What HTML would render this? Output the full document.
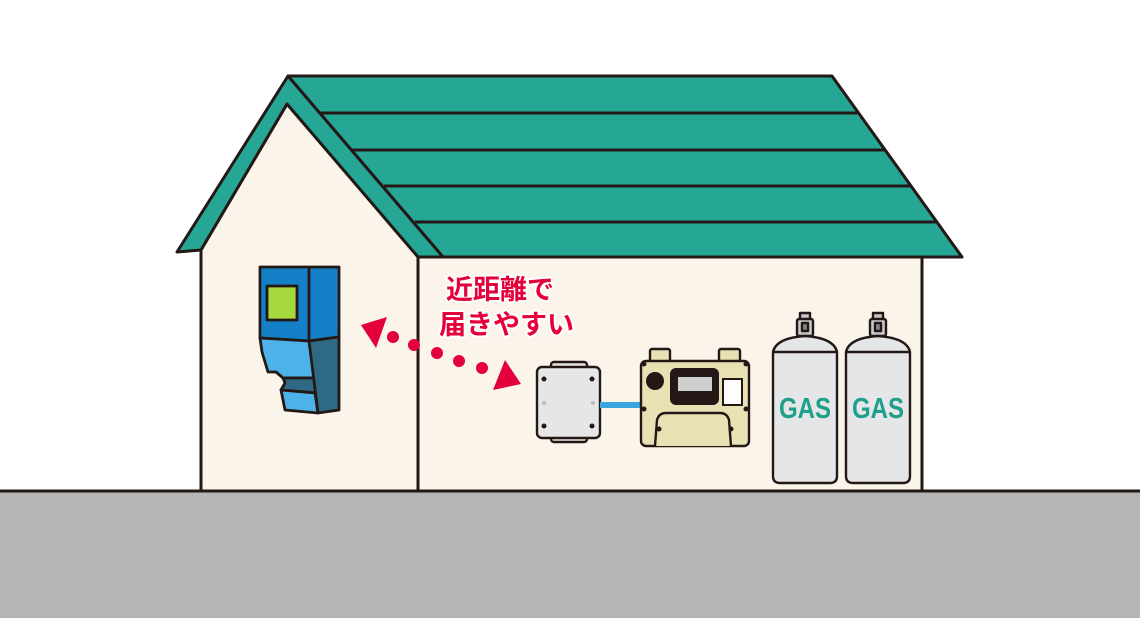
<!DOCTYPE html>
<html><head><meta charset="utf-8"><style>
html,body{margin:0;padding:0;background:#fff;}
svg{display:block;}
</style></head><body>
<svg width="1140" height="618" viewBox="0 0 1140 618" xmlns="http://www.w3.org/2000/svg">
<rect width="1140" height="618" fill="#fff"/>
<rect x="0" y="491" width="1140" height="127" fill="#b5b5b5"/>
<line x1="0" y1="491" x2="1140" y2="491" stroke="#231815" stroke-width="3"/>
<rect x="418" y="256" width="504" height="235" fill="#fbf4ea" stroke="#231815" stroke-width="3"/>
<polygon points="201,250 287,104 418,256 418,491 201,491" fill="#fbf4ea" stroke="#231815" stroke-width="3"/>
<polygon points="288,76 832,76 962,257 443,257" fill="#26a795" stroke="#231815" stroke-width="3" stroke-linejoin="round"/>
<g stroke="#231815" stroke-width="3">
<line x1="320" y1="113" x2="858" y2="113"/>
<line x1="352" y1="150" x2="885" y2="150"/>
<line x1="384" y1="186" x2="910" y2="186"/>
<line x1="415" y1="222" x2="936" y2="222"/>
</g>
<polygon points="288,76 443,257 418,257 287,104 201,250 177,252" fill="#26a795" stroke="#231815" stroke-width="3" stroke-linejoin="round"/>
<g stroke="#231815" stroke-width="2.8" stroke-linejoin="round">
<polygon points="260,267 339,267 339,337 309,341 260,338" fill="#1480c8"/>
<line x1="309" y1="267" x2="309" y2="341"/>
<rect x="267" y="286" width="30" height="34" fill="#a6d940"/>
<polygon points="260,338 309,341 315,378 283,378 276,372 268,372 262,352" fill="#4db2e8"/>
<polygon points="283,378 315,378 318,393 281,390 285,383" fill="#2f6a85"/>
<polygon points="281,390 315,393 318,413 285,410" fill="#4db2e8"/>
<polygon points="309,341 339,337 339,410 318,413" fill="#2f6a85"/>
</g>
<g fill="#e4003a">
<polygon points="361,325 387,317 376,348"/>
<circle cx="393" cy="337" r="6"/>
<circle cx="414" cy="345" r="6"/>
<circle cx="437" cy="353" r="6"/>
<circle cx="459" cy="361" r="6"/>
<circle cx="482" cy="368" r="6"/>
<polygon points="505,360 521,384 493,390"/>
</g>
<g font-family="'Liberation Sans','Noto Sans CJK JP',sans-serif" font-weight="bold" font-size="27" fill="#e4003a" stroke="#fff" stroke-width="4" paint-order="stroke" stroke-linejoin="round">
<text x="446" y="299">近距離で</text>
<text x="439" y="334">届きやすい</text>
</g>
<g stroke="#231815" stroke-width="2.4" stroke-linejoin="round">
<rect x="551" y="362" width="36" height="8" rx="3" fill="#e6e6e6"/>
<rect x="551" y="434" width="36" height="8" rx="3" fill="#e6e6e6"/>
<rect x="537" y="367" width="63" height="71" rx="5" fill="#e6e6e6"/>
</g>
<g fill="#231815"><circle cx="544" cy="379" r="2.5"/><circle cx="592" cy="379" r="2.5"/><circle cx="544" cy="426" r="2.5"/><circle cx="592" cy="426" r="2.5"/></g>
<g fill="#bbb"><circle cx="544" cy="403" r="2"/><circle cx="593" cy="403" r="2"/></g>
<rect x="600" y="402" width="41" height="6" fill="#3aa5dc"/>
<g stroke="#231815" stroke-width="2.4" stroke-linejoin="round">
<rect x="650" y="349" width="20" height="14" rx="2" fill="#e8e1b4"/>
<rect x="719" y="349" width="21" height="14" rx="2" fill="#e8e1b4"/>
<rect x="641" y="361" width="108" height="85" rx="5" fill="#e8e1b4"/>
<path d="M655,446 L657,420 Q659,413 666,413 L720,413 Q727,413 729,420 L731,446" fill="#e8e1b4"/>
</g>
<circle cx="655" cy="381" r="9" fill="#231815"/>
<rect x="670" y="368" width="49" height="37" rx="6" fill="#231815"/>
<rect x="678" y="377" width="34" height="14" fill="#cfcfcf"/>
<rect x="723" y="379" width="19" height="26" fill="#fff" stroke="#231815" stroke-width="2"/>
<g fill="#231815"><circle cx="644" cy="364" r="2.5"/><circle cx="746" cy="364" r="2.5"/><circle cx="644" cy="409" r="2.5"/><circle cx="746" cy="409" r="2.5"/><circle cx="659" cy="429" r="2.5"/><circle cx="731" cy="429" r="2.5"/></g>
<g stroke="#231815" stroke-width="2.4" stroke-linejoin="round">
<g>
<rect x="800" y="313" width="10" height="7" fill="#c8c8c8"/>
<rect x="797" y="319" width="16" height="17" rx="2" fill="#c8c8c8"/>
<rect x="802" y="323" width="6" height="8" fill="#888"/>
<path d="M773,352 Q776,338 805,336 Q834,338 837,352 L837,476 Q837,483 830,483 L780,483 Q773,483 773,476 Z" fill="#e4e6e7"/>
<line x1="773" y1="352" x2="837" y2="352"/>
</g>
<g>
<rect x="873" y="313" width="10" height="7" fill="#c8c8c8"/>
<rect x="870" y="319" width="16" height="17" rx="2" fill="#c8c8c8"/>
<rect x="875" y="323" width="6" height="8" fill="#888"/>
<path d="M846,352 Q849,338 878,336 Q907,338 910,352 L910,476 Q910,483 903,483 L853,483 Q846,483 846,476 Z" fill="#e4e6e7"/>
<line x1="846" y1="352" x2="910" y2="352"/>
</g>
</g>
<g font-family="'Liberation Sans',sans-serif" font-weight="bold" font-size="29" fill="#1ea08c" text-anchor="middle">
<text x="805" y="418" textLength="52" lengthAdjust="spacingAndGlyphs">GAS</text>
<text x="878" y="418" textLength="52" lengthAdjust="spacingAndGlyphs">GAS</text>
</g>
</svg>
</body></html>
